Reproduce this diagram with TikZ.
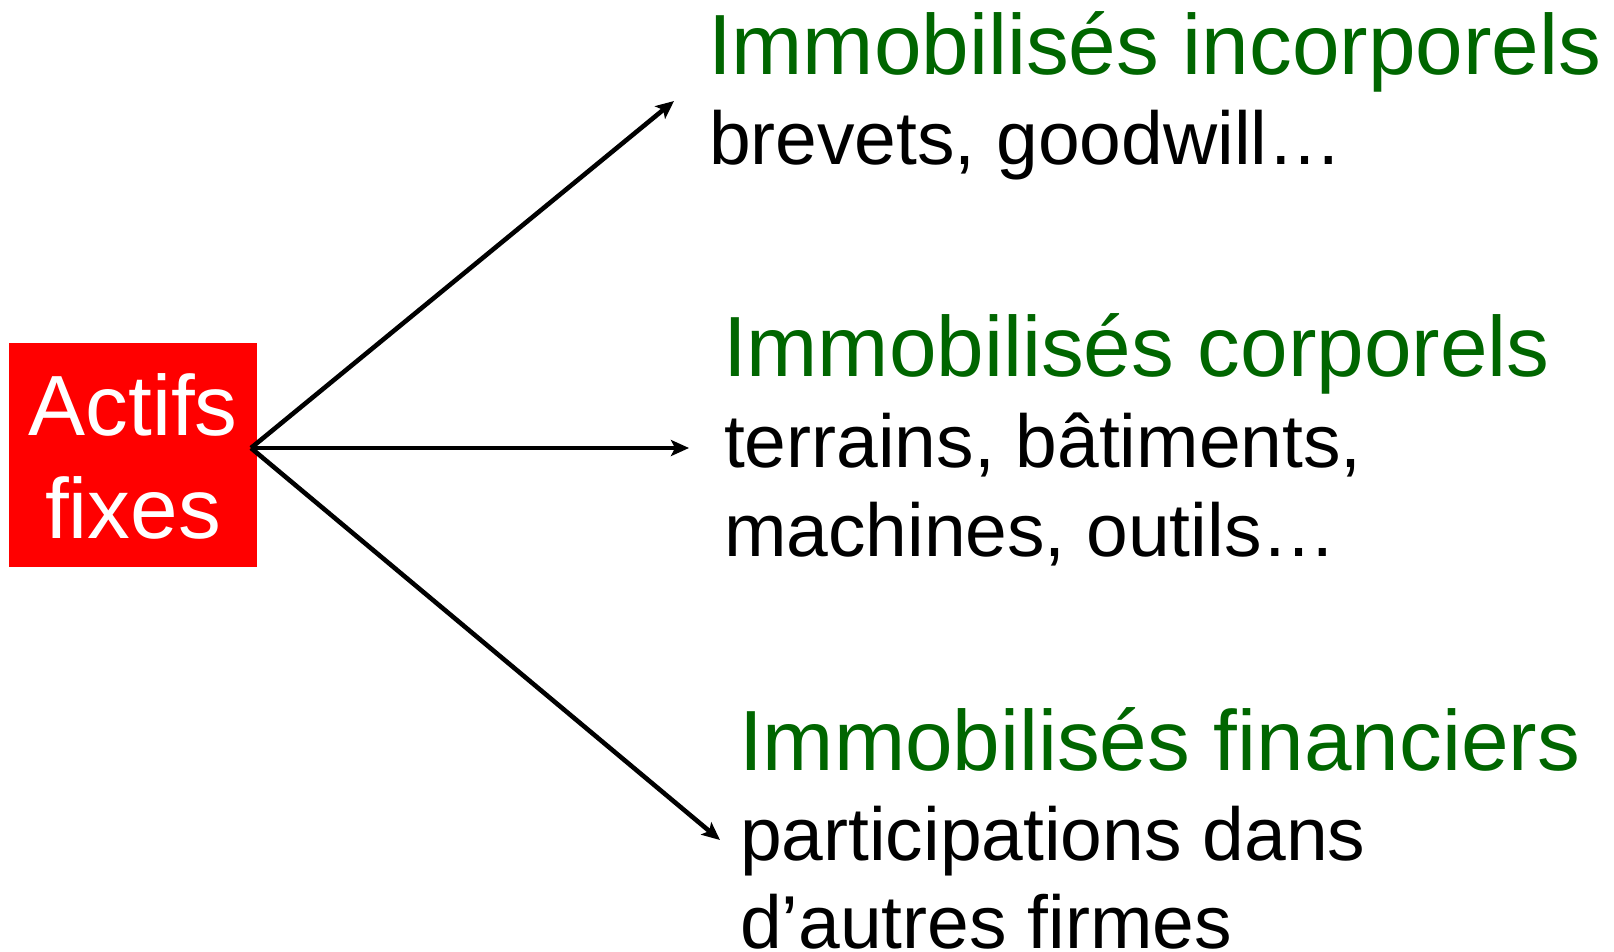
\documentclass[tikz,border=0pt]{standalone}
\usepackage{fontspec}
\setmainfont{Liberation Sans}
\usetikzlibrary{arrows.meta}
\definecolor{boxred}{RGB}{255,0,0}
\definecolor{headgreen}{RGB}{0,102,0}
\newcommand\fontHead{\fontsize{85.5}{100}\selectfont}
\newcommand\fontBody{\fontsize{75}{89}\selectfont}
\begin{document}
\begin{tikzpicture}[x=1pt,y=-1pt,
  txt/.style={anchor=base west, inner sep=0pt, outer sep=0pt},
  headtxt/.style={txt, text=headgreen, font=\fontHead},
  bodytxt/.style={txt, text=black, font=\fontBody},
  boxtxt/.style={anchor=base, inner sep=0pt, text=white, font=\fontHead},
  branch/.style={line width=4.6pt, -{Stealth[length=18pt,width=16pt,inset=4pt]}}]
\useasboundingbox (0,0) rectangle (1614,951);
\fill[white] (0,0) rectangle (1614,951);

% source box
\node[fill=boxred, minimum width=248pt, minimum height=224pt, inner sep=0pt,
      anchor=north west] (actifs) at (9,343) {};
\node[boxtxt] (actifsA) at (133,435) {Actifs};
\node[boxtxt] (actifsB) at (133,538) {fixes};

% branch points
\coordinate (src) at (251,448);
\coordinate (tipA) at (674,101);
\coordinate (tipB) at (689,448);
\coordinate (tipC) at (720,840);

% intangible assets
\node[headtxt] (incA) at (708,74) {Immobilisés incorporels};
\node[bodytxt] (incB) at (709,164) {brevets, goodwill…};

% tangible assets
\node[headtxt] (corA) at (723,376) {Immobilisés corporels};
\node[bodytxt] (corB) at (724,467) {terrains, bâtiments,};
\node[bodytxt] (corC) at (724,556) {machines, outils…};

% financial assets
\node[headtxt] (finA) at (739,770) {Immobilisés financiers};
\node[bodytxt] (finB) at (740,860) {participations dans};
\node[bodytxt] (finC) at (740,948) {d’autres firmes};

% arrows
\draw[branch] (src) -- (tipA);
\draw[branch] (src) -- (tipB);
\draw[branch] (src) -- (tipC);
\end{tikzpicture}
\end{document}
